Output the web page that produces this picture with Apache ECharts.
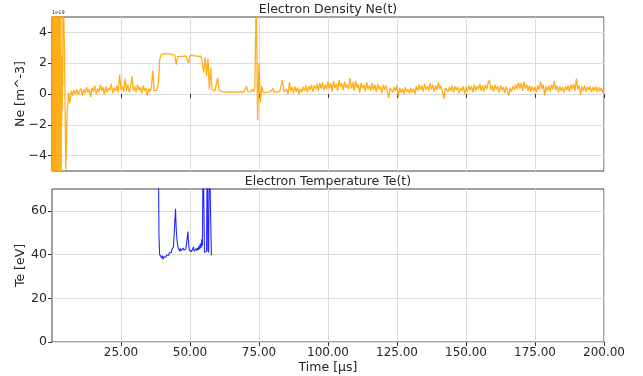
<!DOCTYPE html>
<html>
<head>
<meta charset="utf-8">
<script src="https://cdn.jsdelivr.net/npm/echarts@6/dist/echarts.min.js"></script>
<style>html,body{margin:0;padding:0;background:#fff}#c{width:643px;height:376px}</style>
</head>
<body>
<div id="c"></div>
<script>
// ---- data ----
const neTitle = 'Electron Density Ne(t)';
const teTitle = 'Electron Temperature Te(t)';
const xTicks = [25, 50, 75, 100, 125, 150, 175, 200];
const neTicks = [-4, -2, 0, 2, 4];
const teTicks = [0, 20, 40, 60];

// early burst, 0.0 .. 3.9 us, step 0.1 (units of 1e19 m^-3)
const neEarlyStart = 0, neEarlyStep = 0.1;
const neEarlyValues = [
  8, -9, 7, -8, 9, -7, 8, -9, 7, -8,
  9, -8, 7, -9, 8, -7, 9, -8, 7, -9,
  8, -8, 9, -7, 8, -9, 7, -8, 9, -7,
  8, -9, 7, -8, 1.9, -2.0, 2.5, -1.0, 1.0, 0.5
];
// main trace, 4.0 .. 200.0 us, step 0.5
const neStart = 4, neStep = 0.5;
const neValues = [
  7, 3.0, -4.9, -1.2, 0.1, -0.6, 0.2, -0.1, 0.25, 0.0,
  0.3, -0.05, 0.2, 0.35, -0.1, 0.3, 0.05, 0.45, 0.1, 0.3,
  -0.2, 0.4, 0.15, 0.55, 0.0, 0.35, 0.1, 0.6, 0.2, 0.45,
  -0.05, 0.5, 0.1, 0.4, 0.25, 0.65, 0.05, 0.4, 0.2, 0.55,
  0.1, 1.25, 0.3, 0.5, 0.15, 1.0, 0.2, 0.6, 0.1, 0.45,
  1.15, 0.2, 0.5, 0.1, 0.6, 0.25, 0.45, 0.05, 0.55, 0.2,
  0.4, -0.1, 0.35, 0.15, 0.45, 1.5, 0.2, 0.1, 0.25, 0.6,
  2.2, 2.55, 2.6, 2.62, 2.58, 2.6, 2.55, 2.6, 2.57, 2.55,
  2.5, 2.52, 1.9, 2.45, 2.5, 2.42, 2.48, 2.45, 2.5, 2.47,
  2.45, 2.0, 2.5, 2.55, 2.5, 2.55, 2.48, 2.52, 2.45, 2.5,
  2.45, 2.4, 1.4, 2.4, 1.15, 2.3, 0.3, 1.7, 0.3, 0.25,
  0.2, 0.6, 1.05, 0.25, 0.18, 0.15, 0.14, 0.13, 0.15, 0.12,
  0.14, 0.13, 0.12, 0.14, 0.13, 0.12, 0.15, 0.13, 0.12, 0.14,
  0.15, 0.13, 0.2, 0.5, 0.15, 0.12, 0.14, 0.3, 0.15, 0.45,
  6.5, -1.7, 2.0, -0.55, 0.5, 0.1, 0.12, 0.1, 0.13, 0.12,
  0.14, 0.2, 0.35, 0.12, 0.1, 0.13, 0.12, 0.15, 0.13, 0.9,
  0.15, 0.1, 0.3, 0.0, 0.75, 0.2, 0.45, 0.05, 0.5, 0.15,
  0.4, 0.0, 0.35, 0.1, 0.45, 0.2, 0.55, 0.1, 0.5, 0.25,
  0.6, 0.15, 0.55, 0.3, 0.65, 0.2, 0.7, 0.35, 0.75, 0.25,
  0.6, 0.3, 0.8, 0.35, 0.7, 0.15, 0.85, 0.4, 0.65, 0.2,
  0.9, 0.45, 0.7, 0.25, 0.8, 0.4, 0.6, 0.3, 1.05, 0.35,
  0.75, 0.2, 0.85, 0.4, 0.65, 0.1, 0.7, 0.35, 0.6, 0.15,
  0.75, 0.3, 0.55, 0.2, 0.7, 0.25, 0.6, 0.1, 0.65, 0.3,
  0.5, 0.05, 0.6, 0.25, 0.55, 0.15, -0.25, 0.4, 0.5, 0.1,
  0.45, 0.2, 0.55, -0.2, 0.4, 0.1, 0.35, 0.0, 0.45, 0.15,
  0.3, 0.05, 0.4, 0.1, 0.35, 0.0, 0.5, 0.2, 0.6, 0.25,
  0.55, 0.15, 0.65, 0.3, 0.5, 0.2, 0.7, 0.3, 0.6, 0.15,
  0.55, 0.25, 0.75, 0.3, 0.55, 0.1, -0.3, 0.4, 0.5, 0.15,
  0.45, 0.2, 0.55, 0.1, 0.5, 0.25, 0.45, 0.05, 0.4, 0.2,
  0.5, 0.0, 0.45, 0.15, 0.55, 0.25, 0.5, 0.1, 0.6, 0.2,
  0.5, 0.3, 0.65, 0.2, 0.55, 0.15, 0.6, 0.3, 0.7, 0.9,
  0.25, 0.55, 0.15, 0.6, 0.3, 0.5, 0.1, 0.55, 0.25, 0.45,
  0.05, 0.5, 0.2, -0.1, 0.4, 0.15, 0.5, 0.25, 0.6, 0.3,
  0.75, 0.35, 0.7, 0.2, 0.8, 0.35, 0.6, 0.2, 0.55, 0.15,
  0.5, 0.2, 0.45, 0.1, 0.55, 0.25, 0.8, 0.3, 0.6, -0.1,
  0.5, 0.2, 0.55, 0.15, 0.6, 0.3, 0.85, 0.25, 0.55, 0.1,
  0.5, 0.2, 0.45, 0.1, 0.5, 0.25, 0.55, 0.15, 0.6, 0.3,
  0.65, 0.2, 1.0, 0.3, 0.55, -0.05, 0.5, 0.2, 0.55, 0.15,
  0.45, 0.25, 0.5, 0.1, 0.45, 0.2, 0.5, 0.15, 0.45, 0.2,
  0.4, 0.1, 0.35
];
// electron temperature, 38.5 .. 57.75 us, step 0.25 (eV)
const teStart = 38.5, teStep = 0.25;
const teValues = [
  90, 49.5, 40, 39.5, 40.5, 38.5, 39.5, 37.8, 39, 38.5,
  39.5, 38.8, 39.8, 39.2, 40.2, 39.6, 40.8, 40.2, 41.5, 41,
  42.5, 42, 43.5, 42.8, 44, 61, 52, 47, 44.5, 43,
  42.5, 41.5, 42.8, 41.8, 42.5, 41.5, 43, 42, 42.3, 41.2,
  42.5, 41.6, 42.2, 50.5, 45, 42, 41.5, 42.5, 41.3, 42.2,
  41, 43.5, 41.5, 42, 41.2, 42.8, 41.8, 43, 42, 44,
  42.5, 45, 43, 47, 44, 90, 90, 41, 41.5, 40.5,
  41.5, 90, 42, 41, 90, 90, 90, 39.7
];

// ---- build ----
function pairs(start, step, vals) {
  return vals.map((v, i) => [+(start + i * step).toFixed(3), v]);
}
const neData = pairs(neEarlyStart, neEarlyStep, neEarlyValues).concat(pairs(neStart, neStep, neValues));
const teData = pairs(teStart, teStep, teValues);

const FONT = 'DejaVu Sans';
const TXT = '#262626';
const GRIDC = '#dcdcdc';
const minus = v => String(v).replace('-', '\u2212');

const gridL = 52, gridR = 39;
const chart = echarts.init(document.getElementById('c'), null, {renderer: 'canvas'});

function xAxis(idx, showLabels) {
  return {
    type: 'value', gridIndex: idx, min: 0, max: 200, interval: 25,
    axisLine: {show: false},
    axisTick: {show: true, length: 4, lineStyle: {color: '#333'}, customValues: xTicks},
    axisLabel: {show: showLabels, customValues: xTicks, formatter: v => v.toFixed(2), color: TXT, fontFamily: FONT, fontSize: 12, margin: 5},
    splitLine: {show: true, lineStyle: {color: GRIDC, width: 1}},
    name: showLabels ? 'Time [µs]' : '', nameLocation: 'middle', nameGap: 19,
    nameTextStyle: {color: TXT, fontFamily: FONT, fontSize: 12.5}
  };
}

chart.setOption({
  animation: false,
  backgroundColor: '#fff',
  grid: [
    {left: gridL, right: gridR, top: 17, height: 154, show: true, borderColor: '#444', borderWidth: 1, backgroundColor: 'transparent'},
    {left: gridL, right: gridR, top: 189, height: 153, show: true, borderColor: '#444', borderWidth: 1, backgroundColor: 'transparent'}
  ],
  xAxis: [xAxis(0, false), xAxis(1, true)],
  yAxis: [
    {
      type: 'value', gridIndex: 0, min: -5, max: 5,
      axisLine: {show: false},
      axisTick: {show: true, length: 4, lineStyle: {color: '#333'}, customValues: neTicks},
      axisLabel: {customValues: neTicks, formatter: v => minus(v), color: TXT, fontFamily: FONT, fontSize: 12.5, margin: 5},
      splitLine: {show: true, lineStyle: {color: GRIDC, width: 1}},
      name: 'Ne [m^-3]', nameLocation: 'middle', nameRotate: 90, nameGap: 25, nameMoveOverlap: false,
      nameTextStyle: {color: TXT, fontFamily: FONT, fontSize: 12.5}
    },
    {
      type: 'value', gridIndex: 1, min: 0, max: 70,
      axisLine: {show: false},
      axisTick: {show: true, length: 4, lineStyle: {color: '#333'}, customValues: teTicks},
      axisLabel: {customValues: teTicks, color: TXT, fontFamily: FONT, fontSize: 12.5, margin: 5},
      splitLine: {show: true, lineStyle: {color: GRIDC, width: 1}},
      name: 'Te [eV]', nameLocation: 'middle', nameRotate: 90, nameGap: 25, nameMoveOverlap: false,
      nameTextStyle: {color: TXT, fontFamily: FONT, fontSize: 12.5}
    }
  ],
  graphic: [
    {type: 'text', x: 328, y: 10, style: {text: neTitle, fill: TXT, font: '12.5px "DejaVu Sans"', textAlign: 'center', textVerticalAlign: 'middle'}},
    {type: 'text', x: 328, y: 182, style: {text: teTitle, fill: TXT, font: '12.5px "DejaVu Sans"', textAlign: 'center', textVerticalAlign: 'middle'}},
    {type: 'text', x: 52, y: 13, style: {text: '1e19', fill: TXT, font: '5px "DejaVu Sans"', textAlign: 'left', textVerticalAlign: 'middle'}}
  ],
  series: [
    {type: 'line', xAxisIndex: 0, yAxisIndex: 0, data: neData, showSymbol: false, clip: true,
     lineStyle: {color: '#ffa500', width: 1.3, opacity: 0.9}, itemStyle: {color: '#ffa500'}},
    {type: 'line', xAxisIndex: 1, yAxisIndex: 1, data: teData, showSymbol: false, clip: true,
     lineStyle: {color: '#0000ff', width: 1.1, opacity: 0.85}, itemStyle: {color: '#0000ff'}}
  ]
});
</script>
</body>
</html>
